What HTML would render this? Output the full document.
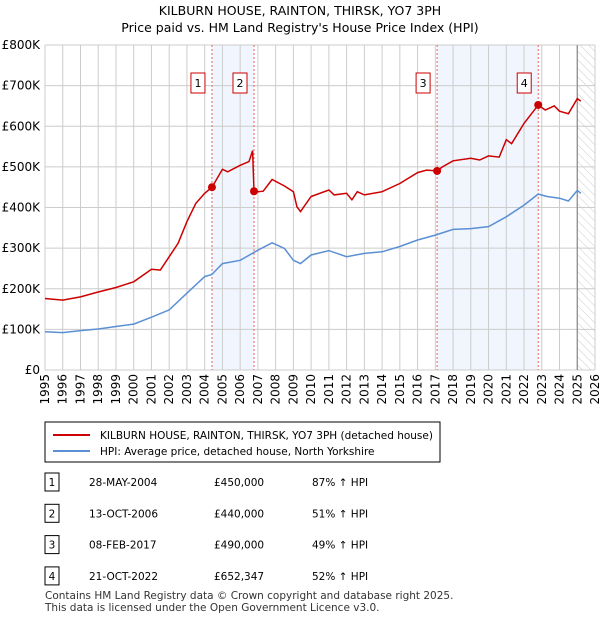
<!DOCTYPE html>
<html><head><meta charset="utf-8"><style>
body{margin:0;background:#fff;font-family:"Liberation Sans","DejaVu Sans",sans-serif;}
svg text{font-family:"DejaVu Sans","Liberation Sans",sans-serif;}
</style></head><body>
<svg width="600" height="620" xmlns="http://www.w3.org/2000/svg" id="chart">
<defs><pattern id="hatch" width="6" height="6" patternUnits="userSpaceOnUse" patternTransform="rotate(-45)"><line x1="0" y1="0" x2="0" y2="6" stroke="#ccc" stroke-width="1"/></pattern></defs>
<text x="300" y="15" text-anchor="middle" font-size="12.5">KILBURN HOUSE, RAINTON, THIRSK, YO7 3PH</text>
<text x="300" y="32" text-anchor="middle" font-size="12.5">Price paid vs. HM Land Registry's House Price Index (HPI)</text>
<g id="plot"></g>
<g>
<rect x="45" y="422" width="395" height="40" fill="#fff" stroke="#000" stroke-width="1"/>
<line x1="53" y1="435" x2="90" y2="435" stroke="#cc0000" stroke-width="2"/>
<text x="100" y="439" font-size="10.5">KILBURN HOUSE, RAINTON, THIRSK, YO7 3PH (detached house)</text>
<line x1="53" y1="451" x2="90" y2="451" stroke="#5b8fd4" stroke-width="2"/>
<text x="100" y="455" font-size="10.5">HPI: Average price, detached house, North Yorkshire</text>
</g>
<g id="table" font-size="10.5"></g>
<text x="45" y="599" font-size="10.5" fill="#333">Contains HM Land Registry data © Crown copyright and database right 2025.</text>
<text x="45" y="611" font-size="10.5" fill="#333">This data is licensed under the Open Government Licence v3.0.</text>
</svg>
<script>
const hpiYears=[1995,1996,1997,1998,1999,2000,2001,2002,2003,2004,2004.4,2005,2006,2007,2007.8,2008.5,2009,2009.4,2010,2011,2012,2013,2014,2015,2016,2017,2018,2019,2020,2021,2022,2022.8,2023.3,2024,2024.5,2025,2025.2];
const hpiValues=[94,92,97,101,107,113,130,148,189,230,235,262,270,295,313,299,270,262,283,294,279,287,291,304,320,332,346,348,353,377,406,433,427,423,416,442,435];
const redYears=[1995,1996,1997,1998,1999,2000,2001,2001.5,2002,2002.5,2003,2003.5,2004,2004.41,2005,2005.3,2006,2006.5,2006.7,2006.78,2007,2007.3,2007.8,2008.5,2009,2009.2,2009.4,2010,2011,2011.3,2012,2012.3,2012.6,2013,2014,2015,2016,2016.5,2017.1,2017.4,2018,2019,2019.5,2020,2020.6,2021,2021.3,2022,2022.8,2023.2,2023.7,2024,2024.5,2025,2025.2];
const redValues=[176,172,180,192,203,217,248,246,279,312,365,410,435,450,494,488,504,513,540,440,439,440,469,453,439,402,390,427,443,431,435,419,439,431,439,459,486,492,490,500,515,521,517,527,524,567,557,607,652,640,650,637,631,668,662];
const saleLabels=["1","2","3","4"];
const saleYears=[2004.41,2006.78,2017.1,2022.8];
const saleValues=[450,440,490,652.347];
const saleDates=["28-MAY-2004","13-OCT-2006","08-FEB-2017","21-OCT-2022"];
const salePrices=["£450,000","£440,000","£490,000","£652,347"];
const saleHpi=["87% ↑ HPI","51% ↑ HPI","49% ↑ HPI","52% ↑ HPI"];
const yTicks=[0,100,200,300,400,500,600,700,800];
const yTickLabels=["£0","£100K","£200K","£300K","£400K","£500K","£600K","£700K","£800K"];
const xTicks=[1995,1996,1997,1998,1999,2000,2001,2002,2003,2004,2005,2006,2007,2008,2009,2010,2011,2012,2013,2014,2015,2016,2017,2018,2019,2020,2021,2022,2023,2024,2025,2026];
const NS="http://www.w3.org/2000/svg";
const X0=45,X1=595,Y0=370,Y1=45;
const x=y=>X0+(y-1995)/31*(X1-X0);
const yv=v=>Y0-v/800*(Y0-Y1);
const g=document.getElementById('plot');
function mk(t,a,p){const e=document.createElementNS(NS,t);for(const k in a)e.setAttribute(k,a[k]);(p||g).appendChild(e);return e;}
// shading
for(let i=0;i<4;i+=2){const r=mk('rect',{x:x(saleYears[i]),y:Y1,width:x(saleYears[i+1])-x(saleYears[i]),height:Y0-Y1,fill:'#eef3fc',opacity:0.8});

}
const h=mk('rect',{x:x(2025),y:Y1,width:X1-x(2025),height:Y0-Y1,fill:'url(#hatch)'});


yTicks.forEach((t,i)=>{const l=mk('line',{x1:X0,x2:X1,y1:yv(t),y2:yv(t),stroke:'#ccc'});


const tx=mk('text',{x:40,y:yv(t)+4,'text-anchor':'end','font-size':12});tx.textContent=yTickLabels[i];

});
xTicks.forEach(t=>{const l=mk('line',{x1:x(t),x2:x(t),y1:Y1,y2:Y0,stroke:'#ccc'});


const tx=mk('text',{x:0,y:0,'text-anchor':'end','font-size':12,transform:`translate(${x(t)+4},374) rotate(-90)`});tx.textContent=t;

});
const vl=mk('line',{x1:x(2025),x2:x(2025),y1:Y1,y2:Y0,stroke:'#888','stroke-width':1.2});


saleYears.forEach((s,i)=>{const l=mk('line',{x1:x(s),x2:x(s),y1:Y1,y2:Y0,stroke:'#f06060','stroke-dasharray':'2,2'});


const b=mk('rect',{x:x(s)-21,y:73,width:14,height:20,fill:'#fff',stroke:'#cc0000'});


const t=mk('text',{x:x(s)-14,y:87,'text-anchor':'middle','font-size':11});t.textContent=saleLabels[i];

});
const path=(xs,vs)=>xs.map((a,i)=>(i?'L':'M')+x(a).toFixed(1)+','+yv(vs[i]).toFixed(1)).join('');
const hl=mk('path',{d:path(hpiYears,hpiValues),fill:'none',stroke:'#5b8fd4','stroke-width':1.5});


const rl=mk('path',{d:path(redYears,redValues),fill:'none',stroke:'#cc0000','stroke-width':1.5});


saleYears.forEach((s,i)=>{const c=mk('circle',{cx:x(s),cy:yv(saleValues[i]),r:4,fill:'#cc0000'});

});
const tb=document.getElementById('table');
saleLabels.forEach((l,i)=>{const y=482+i*31.3;
const b=mk('rect',{x:45,y:y-9,width:14,height:18,fill:'#fff',stroke:'#000'},tb);


const cols=[[52,l,'middle'],[89,saleDates[i],'start'],[214,salePrices[i],'start'],[312,saleHpi[i],'start']];
cols.forEach(c=>{const t=mk('text',{x:c[0],y:y+4,'text-anchor':c[2]},tb);t.textContent=c[1];

});});
</script>
</body></html>
